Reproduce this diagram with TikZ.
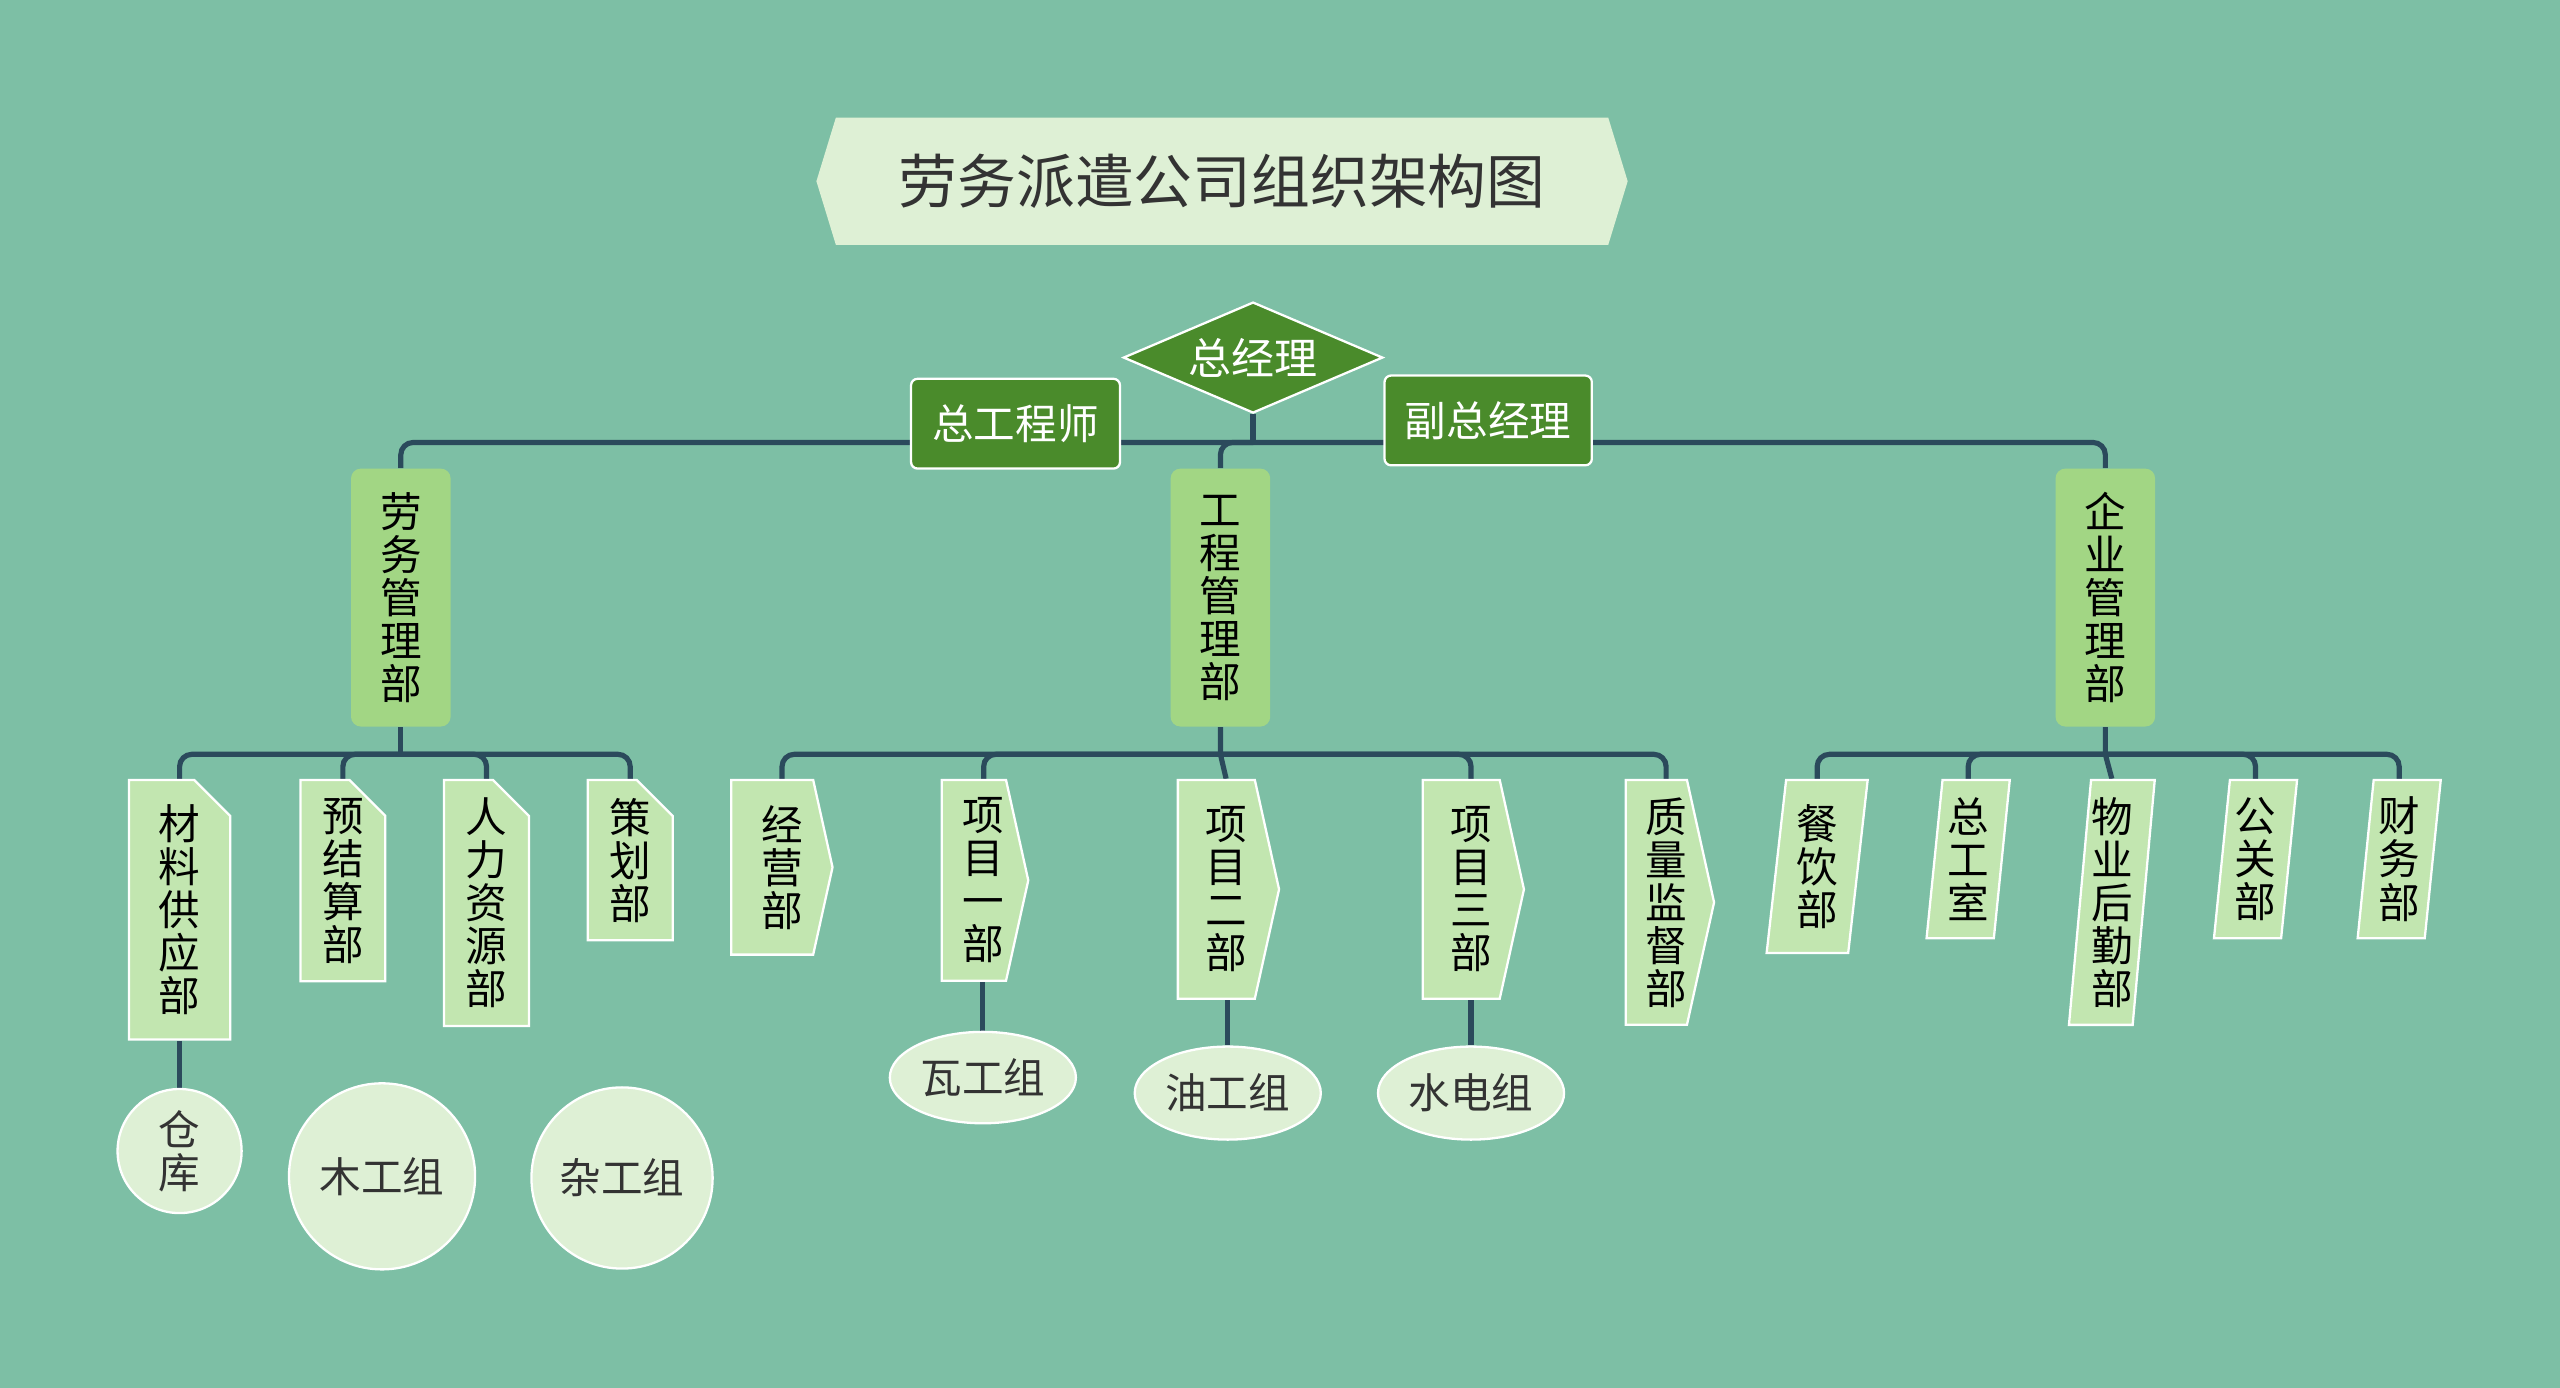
\documentclass[tikz,border=0pt]{standalone}
\usepackage{fontspec}
\setmainfont{Noto Sans CJK SC}
\usetikzlibrary{positioning, shapes.geometric, shapes.misc, shapes.symbols}

\definecolor{BgTeal}{HTML}{7DBFA5}
\definecolor{DeepGreen}{HTML}{4A8B2B}
\definecolor{LeafGreen}{HTML}{A2D684}
\definecolor{PaleGreen}{HTML}{C2E6B0}
\definecolor{Mist}{HTML}{DEF0D5}
\definecolor{Navy}{HTML}{2B4A5C}
\definecolor{Ink}{HTML}{333333}

\pgfdeclarelayer{paper}
\pgfdeclarelayer{lines}
\pgfsetlayers{paper,lines,main}

\begin{document}
\begin{tikzpicture}[x=0.02cm, y=-0.02cm,
    every node/.style={font=\fontsize{14.5}{15}\selectfont, inner sep=0pt, align=center},
    head/.style={draw=white, line width=0.8pt, fill=DeepGreen, text=white, rounded corners=0.08cm, minimum width=2.56cm, minimum height=1.1cm},
    dept/.style={fill=LeafGreen, rounded corners=0.12cm, minimum width=1.22cm, minimum height=3.16cm},
    leafbox/.style={draw=white, line width=0.8pt, fill=PaleGreen, anchor=north},
    foldbox/.style={leafbox, chamfered rectangle, chamfered rectangle corners=north east, chamfered rectangle xsep=0.22cm, chamfered rectangle ysep=0.22cm},
    tipbox/.style={leafbox, signal, signal to=east, signal pointer angle=155, text width=0.75cm, align=right},
    slantbox/.style={leafbox, trapezium, trapezium left angle=84, trapezium right angle=96, trapezium stretches=true},
    crew/.style={draw=white, line width=0.8pt, fill=Mist, text=Ink, ellipse},
    link/.style={draw=Navy, line width=1.8pt},
    bus/.style={link, rounded corners=0.15cm}]

    \begin{pgfonlayer}{paper}
        \fill[BgTeal] (0,0) rectangle (1568,850);
    \end{pgfonlayer}

    \node[signal, signal to=west and east, signal pointer angle=146, fill=Mist, text=Ink, minimum width=9.94cm, minimum height=1.56cm, font=\fontsize{20.5}{22}\selectfont] (title) at (748.5,111) {劳务派遣公司组织架构图};

    \node[diamond, draw=white, line width=0.8pt, fill=DeepGreen, text=white, shape aspect=2.3, minimum width=3.18cm, minimum height=1.36cm, font=\fontsize{15}{16}\selectfont] (gm) at (767.5,219) {总经理};
    \node[head] (chiefeng) at (622,259.5) {总工程师};
    \node[head, minimum width=2.54cm] (deputy) at (911.5,257.5) {副总经理};

    \node[dept] (laowu) at (245.5,366) {劳\\务\\管\\理\\部};
    \node[dept] (gongcheng) at (747.5,366) {工\\程\\管\\理\\部};
    \node[dept] (qiye) at (1289.5,366) {企\\业\\管\\理\\部};

    \node[foldbox, minimum width=1.24cm, minimum height=3.18cm] (cailiao) at (110,477) {材\\料\\供\\应\\部};
    \node[foldbox, minimum width=1.04cm, minimum height=2.46cm] (yujiesuan) at (210,477) {预\\结\\算\\部};
    \node[foldbox, minimum width=1.04cm, minimum height=2.98cm] (renli) at (298,477) {人\\力\\资\\源\\部};
    \node[foldbox, minimum width=1.04cm, minimum height=1.92cm] (cehua) at (386,477) {策\\划\\部};

    \node[tipbox, minimum width=1.24cm, minimum height=2.14cm] (jingying) at (473,477) {经\\营\\部};
    \node[tipbox, minimum width=1.06cm, minimum height=2.46cm] (xm1) at (596.5,477) {项\\目\\一\\部};
    \node[tipbox, minimum width=1.24cm, minimum height=2.68cm] (xm2) at (745,477) {项\\目\\二\\部};
    \node[tipbox, minimum width=1.24cm, minimum height=2.68cm] (xm3) at (895,477) {项\\目\\三\\部};
    \node[tipbox, minimum width=1.06cm, minimum height=3.0cm] (zhiliang) at (1014.5,477) {质\\量\\监\\督\\部};

    \node[slantbox, minimum width=1.24cm, minimum height=2.12cm] (canyin) at (1113,477) {餐\\饮\\部};
    \node[slantbox, minimum width=1.02cm, minimum height=1.94cm] (zonggong) at (1205.5,477) {总\\工\\室};
    \node[slantbox, minimum width=1.02cm, minimum height=3.0cm] (wuye) at (1293.5,477) {物\\业\\后\\勤\\部};
    \node[slantbox, minimum width=1.02cm, minimum height=1.94cm] (gongguan) at (1381.5,477) {公\\关\\部};
    \node[slantbox, minimum width=1.02cm, minimum height=1.94cm] (caiwu) at (1469.5,477) {财\\务\\部};

    \node[crew, circle, minimum size=1.52cm] (cangku) at (110,705) {仓\\库};
    \node[crew, circle, minimum size=2.28cm] (mugong) at (234,720.5) {木工组};
    \node[crew, circle, minimum size=2.22cm] (zagong) at (381,721.5) {杂工组};
    \node[crew, minimum width=2.28cm, minimum height=1.12cm] (wagong) at (602,660) {瓦工组};
    \node[crew, minimum width=2.28cm, minimum height=1.14cm] (yougong) at (752,669.5) {油工组};
    \node[crew, minimum width=2.28cm, minimum height=1.14cm] (shuidian) at (901,669.5) {水电组};

    \coordinate (topbus) at (767.5,271);
    \coordinate (lwbus) at (245.5,462);
    \coordinate (gcbus) at (747.5,462);
    \coordinate (qybus) at (1289.5,462);

    \begin{pgfonlayer}{lines}
        \draw[link] (gm.south) -- (topbus);
        \draw[bus] (topbus) -| (laowu.north);
        \draw[bus] (topbus) -| (qiye.north);
        \draw[bus] (topbus) -| (gongcheng.north);

        \draw[link] (laowu.south) -- (lwbus);
        \foreach \kid in {cailiao, yujiesuan, renli, cehua}
            \draw[bus] (lwbus) -| (\kid.north);

        \draw[link] (gongcheng.south) -- (gcbus) -- ([xshift=0.12cm]xm2.north);
        \foreach \kid in {jingying, xm1, xm3, zhiliang}
            \draw[bus] (gcbus) -| ([xshift=0.12cm]\kid.north);

        \draw[link] (qiye.south) -- (qybus) -- (wuye.north);
        \foreach \kid in {canyin, zonggong, gongguan, caiwu}
            \draw[bus] (qybus) -| (\kid.north);

        \draw[link] (cailiao.south) -- (cangku.north);
        \draw[link] (wagong.north |- xm1.south) -- (wagong.north);
        \draw[link] (yougong.north |- xm2.south) -- (yougong.north);
        \draw[link] (shuidian.north |- xm3.south) -- (shuidian.north);
    \end{pgfonlayer}
\end{tikzpicture}
\end{document}
